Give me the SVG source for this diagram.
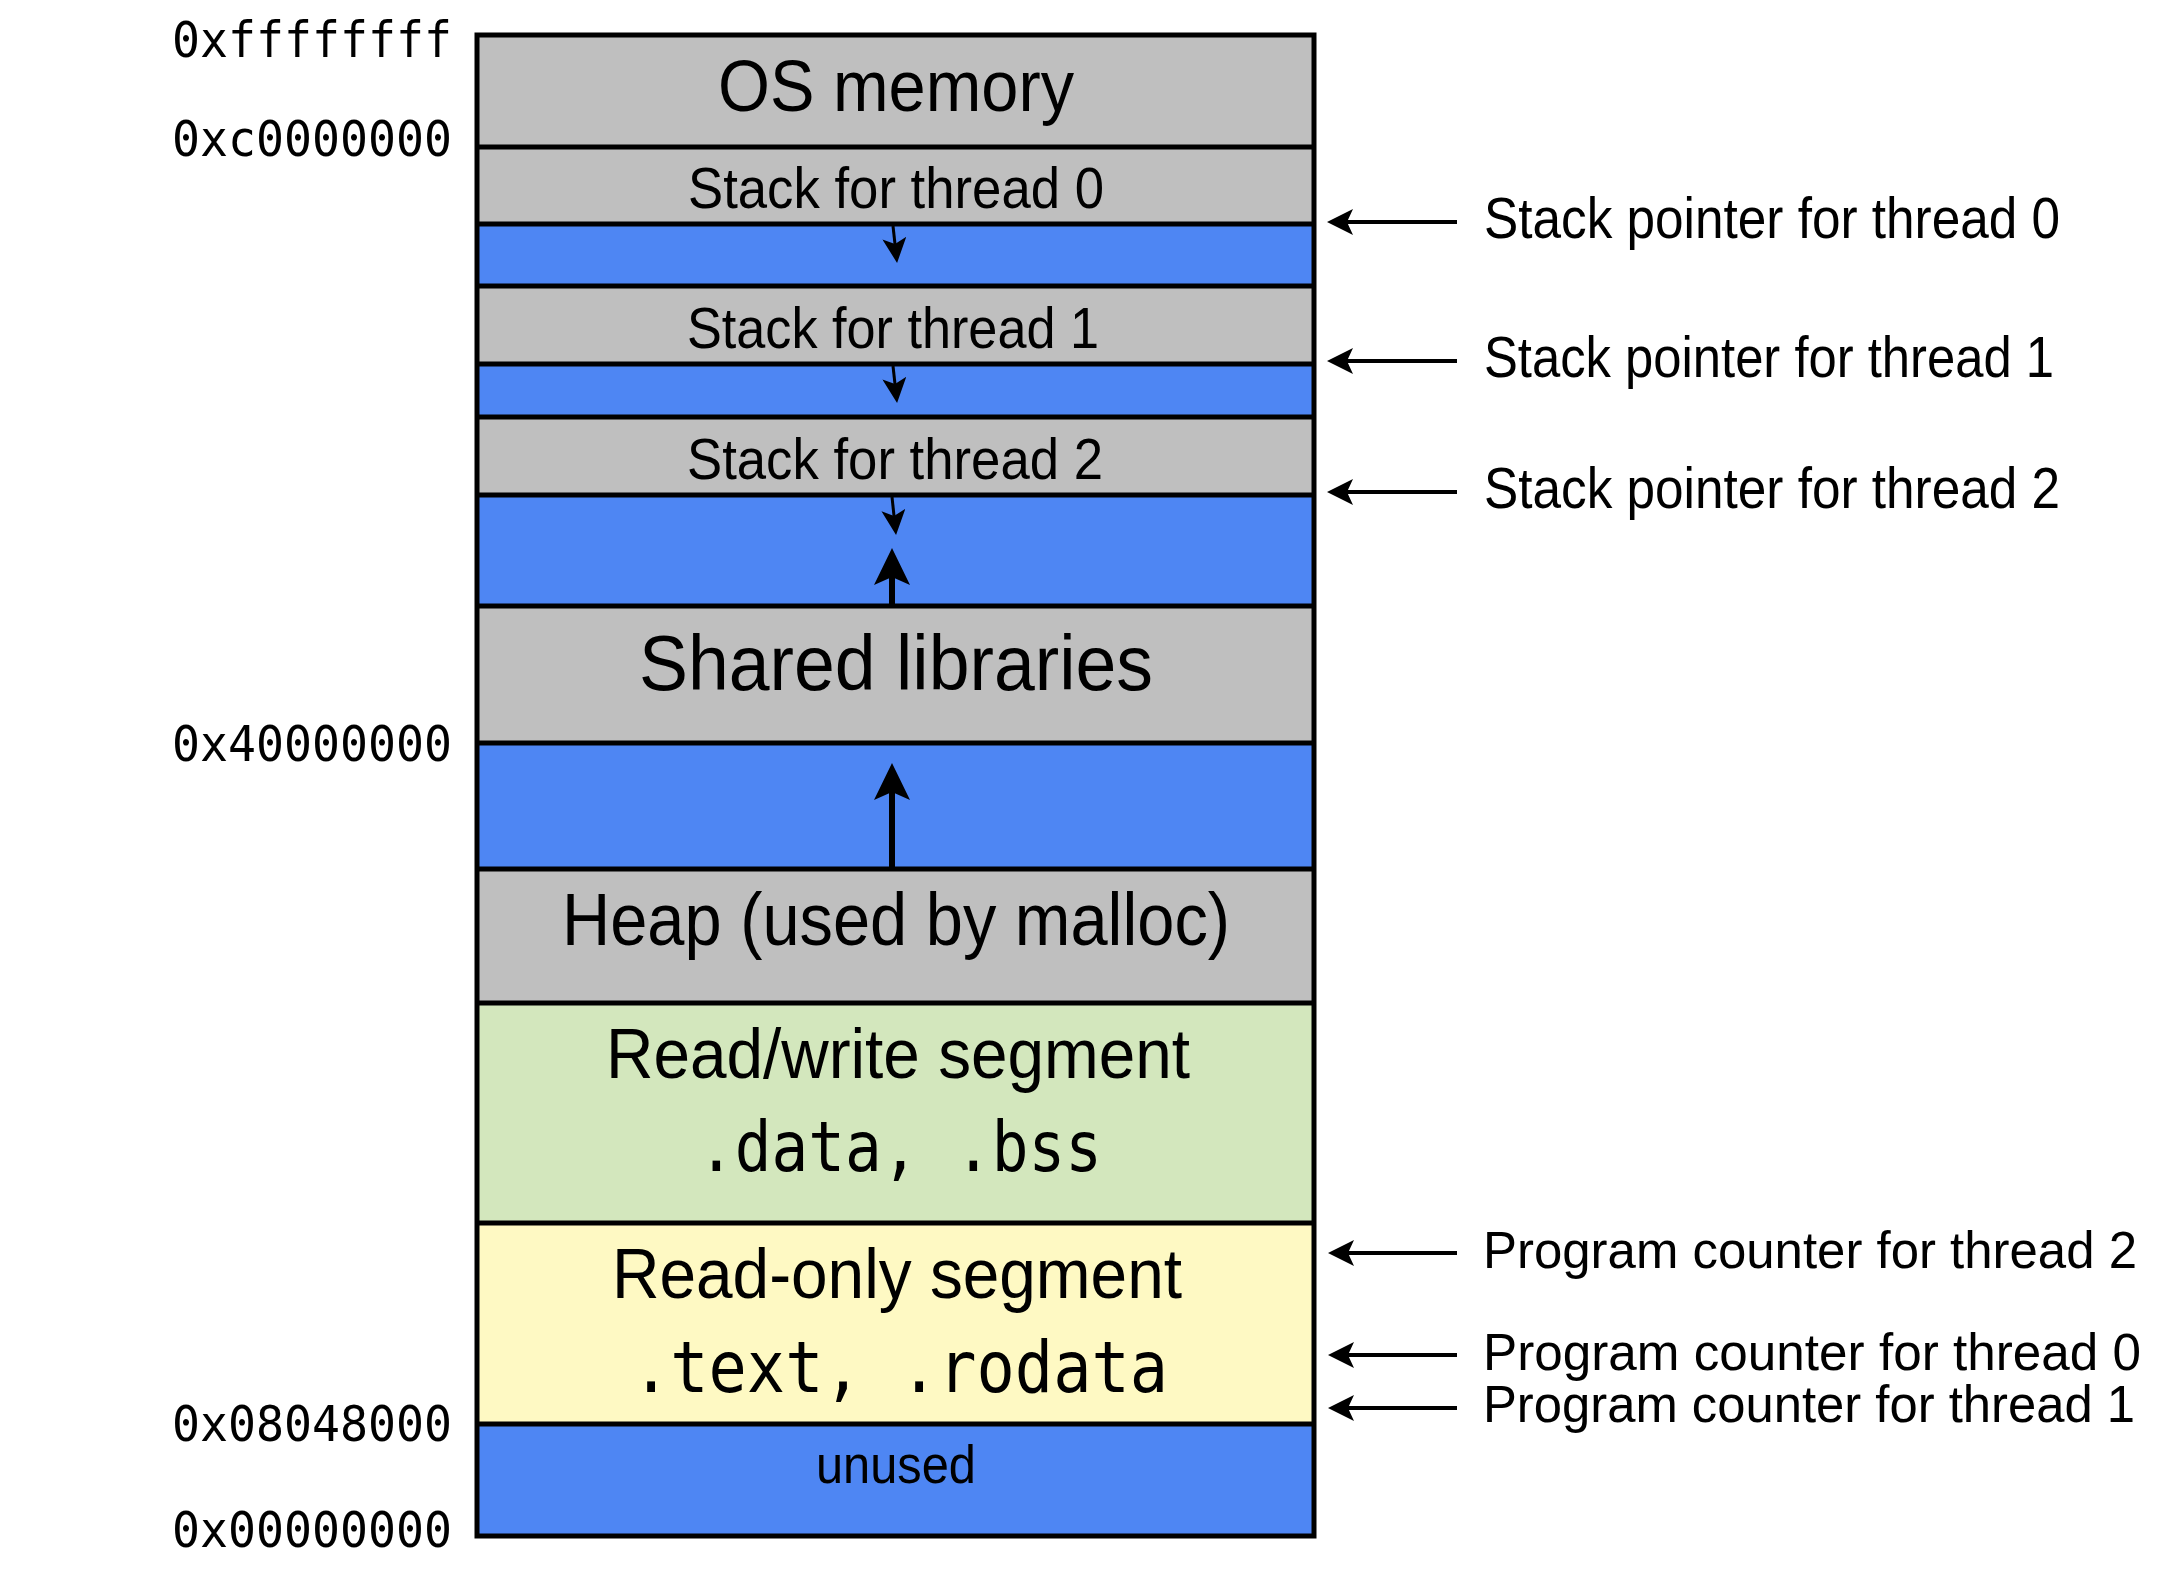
<svg xmlns="http://www.w3.org/2000/svg" width="2180" height="1576" viewBox="0 0 2180 1576">
<style>
.gray{fill:#bfbfbf}
.blue{fill:#4e86f3}
.green{fill:#d3e7bd}
.yellow{fill:#fef9c3}
.sep{stroke:#000;stroke-width:5}
.lbl{font-family:"Liberation Sans","Noto Sans",sans-serif;fill:#000;text-anchor:middle}
.rl{font-family:"Liberation Sans","Noto Sans",sans-serif;fill:#000;font-size:57px}
.pc{font-family:"Liberation Sans","Noto Sans",sans-serif;fill:#000;font-size:52px}
.mono{font-family:"DejaVu Sans Mono","Liberation Mono",monospace;fill:#000}
.addr{font-family:"DejaVu Sans Mono","Liberation Mono",monospace;fill:#000;font-size:50px;text-anchor:end}
.ptr{stroke:#000;stroke-width:4;fill:none}
.down{stroke:#000;stroke-width:3;fill:none}
.up{stroke:#000;stroke-width:6;fill:none}
</style>
<defs>
<marker id="hPtr" markerUnits="userSpaceOnUse" markerWidth="26" markerHeight="26" refX="16" refY="13" orient="auto" viewBox="0 0 26 26"><path d="M0,0 L26,13 L0,26 L6,13 Z" fill="#000"/></marker>
<marker id="hDown" markerUnits="userSpaceOnUse" markerWidth="25" markerHeight="24" refX="17" refY="12" orient="auto" viewBox="0 0 25 24"><path d="M0,0 L25,12 L0,24 L6,12 Z" fill="#000"/></marker>
<marker id="hUp" markerUnits="userSpaceOnUse" markerWidth="37" markerHeight="36" refX="10" refY="18" orient="auto" viewBox="0 0 37 36"><path d="M0,0 L37,18 L0,36 L8,18 Z" fill="#000"/></marker>
</defs>
<rect width="2180" height="1576" fill="#fff"/>

<g id="os-memory"><rect class="gray" x="477" y="35" width="837" height="112"/><text class="lbl" x="896" y="111" font-size="72" textLength="356" lengthAdjust="spacingAndGlyphs">OS memory</text></g>
<g id="stack0"><rect class="gray" x="477" y="147" width="837" height="77"/><text class="lbl" x="896" y="208" font-size="58" textLength="416" lengthAdjust="spacingAndGlyphs">Stack for thread 0</text></g>
<g id="free0"><rect class="blue" x="477" y="224" width="837" height="62"/></g>
<g id="stack1"><rect class="gray" x="477" y="286" width="837" height="78"/><text class="lbl" x="893" y="348" font-size="58" textLength="412" lengthAdjust="spacingAndGlyphs">Stack for thread 1</text></g>
<g id="free1"><rect class="blue" x="477" y="364" width="837" height="53"/></g>
<g id="stack2"><rect class="gray" x="477" y="417" width="837" height="78"/><text class="lbl" x="895" y="479" font-size="58" textLength="416" lengthAdjust="spacingAndGlyphs">Stack for thread 2</text></g>
<g id="free2"><rect class="blue" x="477" y="495" width="837" height="111"/></g>
<g id="shared-libs"><rect class="gray" x="477" y="606" width="837" height="137"/><text class="lbl" x="896" y="690" font-size="78" textLength="514" lengthAdjust="spacingAndGlyphs">Shared libraries</text></g>
<g id="free3"><rect class="blue" x="477" y="743" width="837" height="126"/></g>
<g id="heap"><rect class="gray" x="477" y="869" width="837" height="134"/><text class="lbl" x="896" y="945" font-size="74" textLength="668" lengthAdjust="spacingAndGlyphs">Heap (used by malloc)</text></g>
<g id="rw-segment"><rect class="green" x="477" y="1003" width="837" height="220"/><text class="lbl" x="898" y="1078" font-size="70" textLength="584" lengthAdjust="spacingAndGlyphs">Read/write segment</text><text class="mono" x="900" y="1171" font-size="70" text-anchor="middle" textLength="404" lengthAdjust="spacingAndGlyphs">.data, .bss</text></g>
<g id="ro-segment"><rect class="yellow" x="477" y="1223" width="837" height="201"/><text class="lbl" x="897" y="1298" font-size="70" textLength="570" lengthAdjust="spacingAndGlyphs">Read-only segment</text><text class="mono" x="900" y="1392" font-size="72" text-anchor="middle" textLength="536" lengthAdjust="spacingAndGlyphs">.text, .rodata</text></g>
<g id="unused"><rect class="blue" x="477" y="1424" width="837" height="112"/><text class="lbl" x="896" y="1483" font-size="54" textLength="160" lengthAdjust="spacingAndGlyphs">unused</text></g>

<g id="separators">
<line class="sep" x1="477" y1="147" x2="1314" y2="147"/>
<line class="sep" x1="477" y1="224" x2="1314" y2="224"/>
<line class="sep" x1="477" y1="286" x2="1314" y2="286"/>
<line class="sep" x1="477" y1="364" x2="1314" y2="364"/>
<line class="sep" x1="477" y1="417" x2="1314" y2="417"/>
<line class="sep" x1="477" y1="495" x2="1314" y2="495"/>
<line class="sep" x1="477" y1="606" x2="1314" y2="606"/>
<line class="sep" x1="477" y1="743" x2="1314" y2="743"/>
<line class="sep" x1="477" y1="869" x2="1314" y2="869"/>
<line class="sep" x1="477" y1="1003" x2="1314" y2="1003"/>
<line class="sep" x1="477" y1="1223" x2="1314" y2="1223"/>
<line class="sep" x1="477" y1="1424" x2="1314" y2="1424"/>
<rect x="477" y="35" width="837" height="1501" fill="none" stroke="#000" stroke-width="5"/>
</g>

<g id="addresses">
<text class="addr" x="452" y="57" textLength="280" lengthAdjust="spacingAndGlyphs">0xffffffff</text>
<text class="addr" x="452" y="156" textLength="280" lengthAdjust="spacingAndGlyphs">0xc0000000</text>
<text class="addr" x="452" y="761" textLength="280" lengthAdjust="spacingAndGlyphs">0x40000000</text>
<text class="addr" x="452" y="1441" textLength="280" lengthAdjust="spacingAndGlyphs">0x08048000</text>
<text class="addr" x="452" y="1547" textLength="280" lengthAdjust="spacingAndGlyphs">0x00000000</text>
</g>

<g id="pointer-labels">
<text class="rl" x="1484" y="238" textLength="576" lengthAdjust="spacingAndGlyphs">Stack pointer for thread 0</text>
<text class="rl" x="1484" y="377" textLength="570" lengthAdjust="spacingAndGlyphs">Stack pointer for thread 1</text>
<text class="rl" x="1484" y="508" textLength="576" lengthAdjust="spacingAndGlyphs">Stack pointer for thread 2</text>
<text class="pc" x="1483" y="1268" textLength="654" lengthAdjust="spacingAndGlyphs">Program counter for thread 2</text>
<text class="pc" x="1483" y="1370" textLength="658" lengthAdjust="spacingAndGlyphs">Program counter for thread 0</text>
<text class="pc" x="1483" y="1422" textLength="652" lengthAdjust="spacingAndGlyphs">Program counter for thread 1</text>
</g>

<g id="connectors">
<line class="ptr" x1="1457" y1="222" x2="1337" y2="222" marker-end="url(#hPtr)"/>
<line class="ptr" x1="1457" y1="361" x2="1337" y2="361" marker-end="url(#hPtr)"/>
<line class="ptr" x1="1457" y1="492" x2="1337" y2="492" marker-end="url(#hPtr)"/>
<line class="ptr" x1="1457" y1="1253" x2="1338" y2="1253" marker-end="url(#hPtr)"/>
<line class="ptr" x1="1457" y1="1355" x2="1338" y2="1355" marker-end="url(#hPtr)"/>
<line class="ptr" x1="1457" y1="1408" x2="1338" y2="1408" marker-end="url(#hPtr)"/>
<line class="down" x1="893" y1="226" x2="896.2" y2="255" marker-end="url(#hDown)"/>
<line class="down" x1="893" y1="366" x2="896.2" y2="395" marker-end="url(#hDown)"/>
<line class="down" x1="892" y1="497" x2="895.2" y2="527" marker-end="url(#hDown)"/>
<line class="up" x1="892" y1="604" x2="892" y2="575" marker-end="url(#hUp)"/>
<line class="up" x1="892" y1="867" x2="892" y2="790" marker-end="url(#hUp)"/>
</g>
</svg>
